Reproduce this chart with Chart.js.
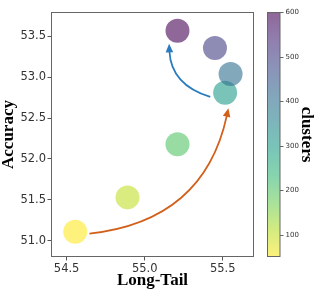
<!DOCTYPE html>
<html>
<head>
<meta charset="utf-8">
<script src="https://cdn.jsdelivr.net/npm/chart.js@4"></script>
<style>
  html, body { margin: 0; padding: 0; background: #fff; }
  canvas { display: block; }
</style>
</head>
<body>
<canvas id="myChart" width="317" height="293"></canvas>
<script>
// values
const longTail = [54.555, 54.89, 55.21, 55.515, 55.55, 55.45, 55.21];
const accuracy = [51.11, 51.53, 52.18, 52.81, 53.04, 53.36, 53.57];
const clusters = [50, 100, 200, 300, 400, 500, 600];

const xTicks = [54.5, 55.0, 55.5];
const yTicks = [51.0, 51.5, 52.0, 52.5, 53.0, 53.5];
const clusterTicks = [100, 200, 300, 400, 500, 600];

// curved annotation arrows (data coords)
const arrowFrom = [[54.646, 51.087], [55.42, 52.76]];
const arrowTo = [[55.536, 52.62], [55.156, 53.41]];
const arrowBend = [0.36, -0.35];
const arrowColors = ['#d2601a', '#2b7bbf'];

// viridis samples, t = 0 .. 1
const viridis = [[68,1,84],[72,40,120],[62,73,137],[49,104,142],[38,130,142],
                 [31,158,137],[53,183,121],[110,206,88],[181,222,43],[253,231,37]];
const cMin = 50, cMax = 600, alpha = 0.6;

function viridisAt(t) {
    t = Math.min(1, Math.max(0, t)) * (viridis.length - 1);
    const i = Math.min(viridis.length - 2, Math.floor(t));
    const f = t - i;
    const a = viridis[i], b = viridis[i + 1];
    return a.map((v, k) => Math.round(v + (b[k] - v) * f));
}

// reversed viridis: small cluster counts are yellow
function clusterColor(v) {
    const c = viridisAt(1 - (v - cMin) / (cMax - cMin));
    return `rgba(${c[0]}, ${c[1]}, ${c[2]}, ${alpha})`;
}

const tickFont = { family: "'DejaVu Sans', sans-serif", size: 11.5 };
const titleFont = { family: "'Liberation Serif', 'Times New Roman', serif", size: 17, weight: 'bold', lineHeight: 1 };

function drawArrow(ctx, p0, p2, bend, color) {
    const dx = p2.x - p0.x, dy = p2.y - p0.y;
    const cx = (p0.x + p2.x) / 2 - bend * dy;
    const cy = (p0.y + p2.y) / 2 + bend * dx;
    let ux = p2.x - cx, uy = p2.y - cy;
    const len = Math.hypot(ux, uy);
    ux /= len; uy /= len;
    const headLen = 8.5, headW = 3.8;
    ctx.save();
    ctx.strokeStyle = color;
    ctx.fillStyle = color;
    ctx.lineWidth = 1.7;
    ctx.beginPath();
    ctx.moveTo(p0.x, p0.y);
    ctx.quadraticCurveTo(cx, cy, p2.x - ux * (headLen - 1), p2.y - uy * (headLen - 1));
    ctx.stroke();
    ctx.beginPath();
    ctx.moveTo(p2.x, p2.y);
    ctx.lineTo(p2.x - ux * headLen - uy * headW, p2.y - uy * headLen + ux * headW);
    ctx.lineTo(p2.x - ux * headLen + uy * headW, p2.y - uy * headLen - ux * headW);
    ctx.closePath();
    ctx.fill();
    ctx.restore();
}

const extras = {
    id: 'extras',
    afterDatasetsDraw(chart) {
        const { ctx, scales: { x, y } } = chart;
        arrowFrom.forEach((from, i) => {
            const to = arrowTo[i];
            drawArrow(ctx,
                { x: x.getPixelForValue(from[0]), y: y.getPixelForValue(from[1]) },
                { x: x.getPixelForValue(to[0]), y: y.getPixelForValue(to[1]) },
                arrowBend[i], arrowColors[i]);
        });
    },
    afterDraw(chart) {
        const { ctx, chartArea: a, scales: { c } } = chart;
        ctx.save();
        // plot frame
        ctx.strokeStyle = '#666';
        ctx.lineWidth = 1;
        ctx.strokeRect(a.left + 0.5, a.top + 0.5, a.right - a.left - 1, a.bottom - a.top - 1);

        // colorbar
        const barL = a.right + 13.5, barW = 12.5;
        const top = c.getPixelForValue(cMax), bottom = c.getPixelForValue(cMin);
        const grad = ctx.createLinearGradient(0, top, 0, bottom);
        viridis.forEach((col, i) => {
            grad.addColorStop(i / (viridis.length - 1), `rgba(${col[0]}, ${col[1]}, ${col[2]}, ${alpha})`);
        });
        ctx.fillStyle = grad;
        ctx.fillRect(barL, top, barW, bottom - top);
        ctx.strokeStyle = '#666';
        ctx.strokeRect(barL, top + 0.5, barW, bottom - top - 1);

        ctx.font = "7px 'DejaVu Sans', sans-serif";
        ctx.fillStyle = '#333';
        ctx.textAlign = 'left';
        ctx.textBaseline = 'middle';
        clusterTicks.forEach(v => {
            const py = Math.round(c.getPixelForValue(v)) + 0.5;
            ctx.beginPath();
            ctx.moveTo(barL + barW, py);
            ctx.lineTo(barL + barW + 3.5, py);
            ctx.stroke();
            ctx.fillText(String(v), barL + barW + 5.5, py);
        });

        // colorbar label
        ctx.translate(306, (a.top + a.bottom) / 2);
        ctx.rotate(Math.PI / 2);
        ctx.font = "bold 17px 'Liberation Serif', 'Times New Roman', serif";
        ctx.fillStyle = '#000';
        ctx.textAlign = 'center';
        ctx.fillText('clusters', 0, 0);
        ctx.restore();
    }
};

const ctx = document.getElementById('myChart').getContext('2d');
new Chart(ctx, {
    type: 'scatter',
    data: {
        datasets: [{
            data: longTail.map((v, i) => ({ x: v, y: accuracy[i] })),
            backgroundColor: clusters.map(clusterColor),
            borderWidth: 0,
            pointRadius: 12,
            pointHoverRadius: 12
        }]
    },
    options: {
        responsive: false,
        animation: false,
        events: [],
        layout: { padding: { top: 4, right: 63, left: 0, bottom: 0 } },
        plugins: { legend: { display: false }, tooltip: { enabled: false } },
        scales: {
            x: {
                type: 'linear',
                position: 'bottom',
                min: 54.4,
                max: 55.7,
                afterBuildTicks: s => { s.ticks = xTicks.map(v => ({ value: v })); },
                afterFit: s => { s.height = 36; },
                border: { display: false },
                grid: { drawOnChartArea: false, tickLength: 3.5, color: '#555' },
                ticks: { padding: 2, color: '#333', font: tickFont, maxRotation: 0, callback: v => v.toFixed(1) },
                title: { display: true, text: 'Long-Tail', color: '#000', font: titleFont, padding: { top: 0, bottom: 4 } }
            },
            y: {
                type: 'linear',
                position: 'left',
                min: 50.8,
                max: 53.8,
                afterBuildTicks: s => { s.ticks = yTicks.map(v => ({ value: v })); },
                afterFit: s => { s.width = 51; },
                border: { display: false },
                grid: { drawOnChartArea: false, tickLength: 3.5, color: '#555' },
                ticks: { padding: 1.5, color: '#333', font: tickFont, callback: v => v.toFixed(1) },
                title: { display: true, text: 'Accuracy', color: '#000', font: titleFont, padding: { top: 0.5, bottom: 0 } }
            },
            c: { type: 'linear', position: 'right', display: false, min: cMin, max: cMax }
        }
    },
    plugins: [extras]
});
</script>
</body>
</html>
